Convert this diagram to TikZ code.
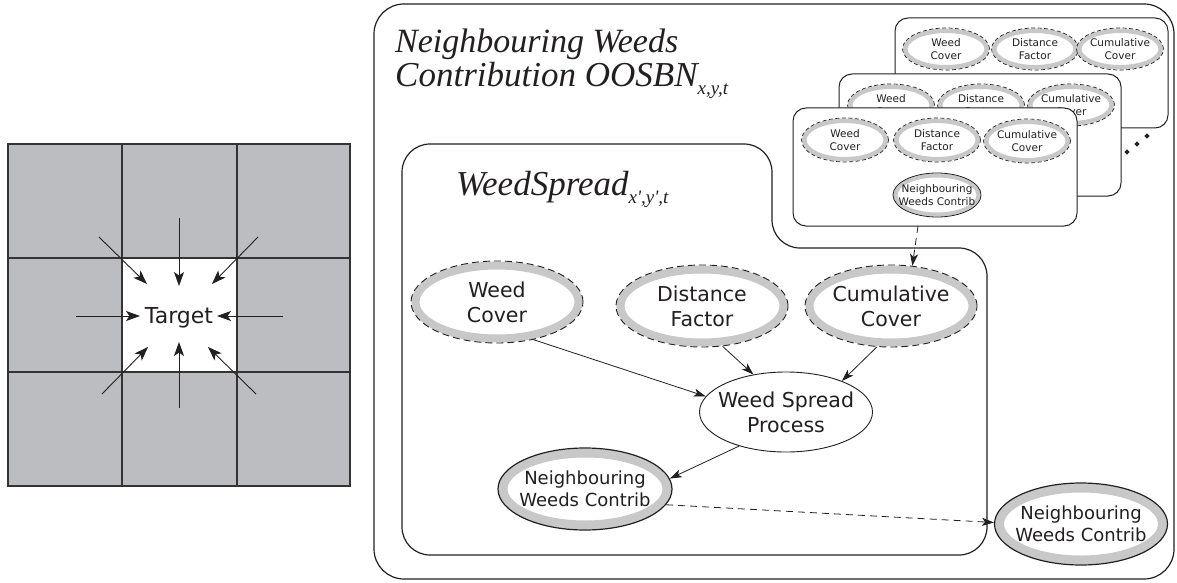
\documentclass[tikz,border=0pt]{standalone}
\usepackage{fontspec}
\setmainfont{DejaVu Sans}
\newfontfamily\titlefont{Liberation Serif}
\usetikzlibrary{arrows.meta,shapes.geometric,calc}

\definecolor{ink}{HTML}{231F20}
\definecolor{cellgray}{HTML}{BCBDC0}
\definecolor{gridline}{HTML}{333333}
\definecolor{ringgray}{HTML}{C8C8C8}

% #1 name, #2 position, #3 width, #4 height, #5 ring width, #6 rim style, #7 text style, #8 text
\newcommand\ringoval[8]{%
  \node[ellipse, fill=white, draw=ringgray, line width=#5, inner sep=0pt,
        minimum width=#3-#5-1pt, minimum height=#4-#5-1pt] (#1-ring) at #2 {};
  \node[ellipse, #6, inner sep=0pt, minimum width=#3, minimum height=#4] (#1) at #2 {};
  \node[#7] (#1-text) at #2 {#8};
}

\tikzset{
  boxline/.style={draw=ink, line width=1.2pt},
  cardbox/.style={rectangle, draw=ink, fill=white, line width=1pt, rounded corners=13pt, inner sep=0pt},
  rimdash/.style={draw=ink, line width=0.9pt, dash pattern=on 7pt off 4pt},
  rimsolid/.style={draw=ink, line width=1.2pt},
  smallrimdash/.style={draw=ink, line width=0.7pt, dash pattern=on 4pt off 2.5pt},
  smallrimsolid/.style={draw=ink, line width=0.8pt},
  bigtext/.style={font=\fontsize{20.5}{25}\selectfont, align=center, text=ink, inner sep=0pt},
  midtext/.style={font=\fontsize{18}{22}\selectfont, align=center, text=ink, inner sep=0pt},
  smalltext/.style={font=\fontsize{10.5}{13}\selectfont, align=center, text=ink, inner sep=0pt},
  titletext/.style={font=\titlefont\itshape\fontsize{34}{40}\selectfont, text=ink, inner sep=0pt, anchor=base west},
  link/.style={draw=ink, line width=0.8pt, -{Stealth[length=12pt, width=8pt, inset=3pt]}},
  dashlink/.style={link, dash pattern=on 7pt off 5pt},
  gridarrow/.style={draw=ink, line width=0.9pt, -{Stealth[length=14pt, width=10pt, inset=3.5pt]}},
}

\newcommand\subtext[1]{\raisebox{-8pt}{\fontsize{19}{19}\selectfont #1}}

\begin{document}
\begin{tikzpicture}[x=1pt, y=-1pt]
\useasboundingbox (0,0) rectangle (1177,583);

% ---------- neighbourhood grid ----------
\fill[cellgray] (8,144) rectangle (350,486);
\fill[white] (122,258) rectangle (237,372);
\draw[gridline, line width=1.8pt]
  (8,144) rectangle (350,486)
  (122,144) -- (122,486) (237,144) -- (237,486)
  (8,258) -- (350,258) (8,372) -- (350,372);

\node[font=\fontsize{22}{26}\selectfont, text=ink, inner sep=0pt, anchor=base] (target) at (179,323) {Target};

\foreach \nm/\sx/\sy/\tx/\ty in {
    n/179/218/179/286, s/179/408/179/342,
    w/76/316/140/316,  e/283/316/217/316,
    nw/99/237/147/284, ne/258/237/212/284,
    sw/102/394/148/347, se/256/394/208/347} {
  \coordinate (from-\nm) at (\sx,\sy);
  \coordinate (tip-\nm) at (\tx,\ty);
  \draw[gridarrow] (from-\nm) -- (tip-\nm);
}

% ---------- outer frame ----------
\draw[boxline, rounded corners=30pt] (374,4) rectangle (1174,579);
\node[titletext] (title-a) at (395,53) {Neighbouring Weeds};
\node[titletext, font=\titlefont\itshape\fontsize{35}{40}\selectfont] (title-b) at (395,87)
  {Contribution OOSBN\subtext{x,y,t}};

% ---------- inner frame ----------
\draw[boxline, rounded corners=28pt]
  (402,350) -- (402,144) -- (772,144) -- (772,248) -- (987,248)
  -- (987,555) -- (402,555) -- cycle;
\node[titletext, font=\titlefont\itshape\fontsize{35}{40}\selectfont] (title-c) at (456,195)
  {WeedSpread\subtext{x\textquotesingle,y\textquotesingle,t}};

% ---------- model nodes ----------
\ringoval{WC}{(497,302)}{172pt}{82pt}{8pt}{rimdash}{bigtext}{Weed\\Cover}
\ringoval{DF}{(702,306)}{172pt}{82pt}{8pt}{rimdash}{bigtext}{Distance\\Factor}
\ringoval{CC}{(891,306)}{172pt}{82pt}{8pt}{rimdash}{bigtext}{Cumulative\\Cover}

\node[ellipse, draw=ink, line width=0.9pt, fill=white, inner sep=0pt,
      minimum width=173pt, minimum height=80pt] (WSP) at (786,412) {};
\node[bigtext] (WSP-text) at (WSP) {Weed Spread\\Process};

\ringoval{NWC}{(585,489)}{174pt}{82pt}{9pt}{rimsolid}{midtext}{Neighbouring\\Weeds Contrib}
\ringoval{NWCout}{(1081,524)}{173pt}{82pt}{9pt}{rimsolid}{midtext}{Neighbouring\\Weeds Contrib}

\draw[link] (WC.-46) -- (WSP.169);
\draw[link] (DF.-63) -- (WSP.131);
\draw[link] (CC.-109) -- (WSP.29);
\draw[link] (WSP.216) -- (NWC.7);
\draw[dashlink] (NWC.-11) -- (NWCout.179);

% ---------- stacked neighbour models ----------
\node[cardbox, minimum width=273pt, minimum height=110pt] (card3) at (1031.5,73) {};
\ringoval{c3WC}{(946,49)}{87pt}{42pt}{4.5pt}{smallrimdash}{smalltext}{Weed\\Cover}
\ringoval{c3DF}{(1035,49)}{87pt}{42pt}{4.5pt}{smallrimdash}{smalltext}{Distance\\Factor}
\ringoval{c3CC}{(1120,49)}{87pt}{42pt}{4.5pt}{smallrimdash}{smalltext}{Cumulative\\Cover}

\node[cardbox, minimum width=282pt, minimum height=122pt] (card2) at (980,135) {};
\ringoval{c2WC}{(891,105)}{87pt}{42pt}{4.5pt}{smallrimdash}{smalltext}{Weed\\Cover}
\ringoval{c2DF}{(981,105)}{87pt}{42pt}{4.5pt}{smallrimdash}{smalltext}{Distance\\Factor}
\ringoval{c2CC}{(1071,105)}{87pt}{42pt}{4.5pt}{smallrimdash}{smalltext}{Cumulative\\Cover}

\node[cardbox, minimum width=284pt, minimum height=118pt] (card1) at (935,167) {};
\ringoval{c1WC}{(845,140)}{87pt}{44pt}{4.5pt}{smallrimdash}{smalltext}{Weed\\Cover}
\ringoval{c1DF}{(937,140)}{87pt}{44pt}{4.5pt}{smallrimdash}{smalltext}{Distance\\Factor}
\ringoval{c1CC}{(1027,141)}{87pt}{44pt}{4.5pt}{smallrimdash}{smalltext}{Cumulative\\Cover}
\ringoval{c1NWC}{(937,195)}{88pt}{44pt}{4pt}{smallrimsolid}{smalltext}{Neighbouring\\Weeds Contrib}

\foreach \i/\dx/\dy in {1/1127/152, 2/1137/144, 3/1147/136}
  \node[diamond, fill=ink, inner sep=0pt, minimum size=5.5pt] (dot\i) at (\dx,\dy) {};

\coordinate (card1-exit) at (918,226);
\draw[dashlink] (card1-exit) -- (CC.62);
\end{tikzpicture}
\end{document}
